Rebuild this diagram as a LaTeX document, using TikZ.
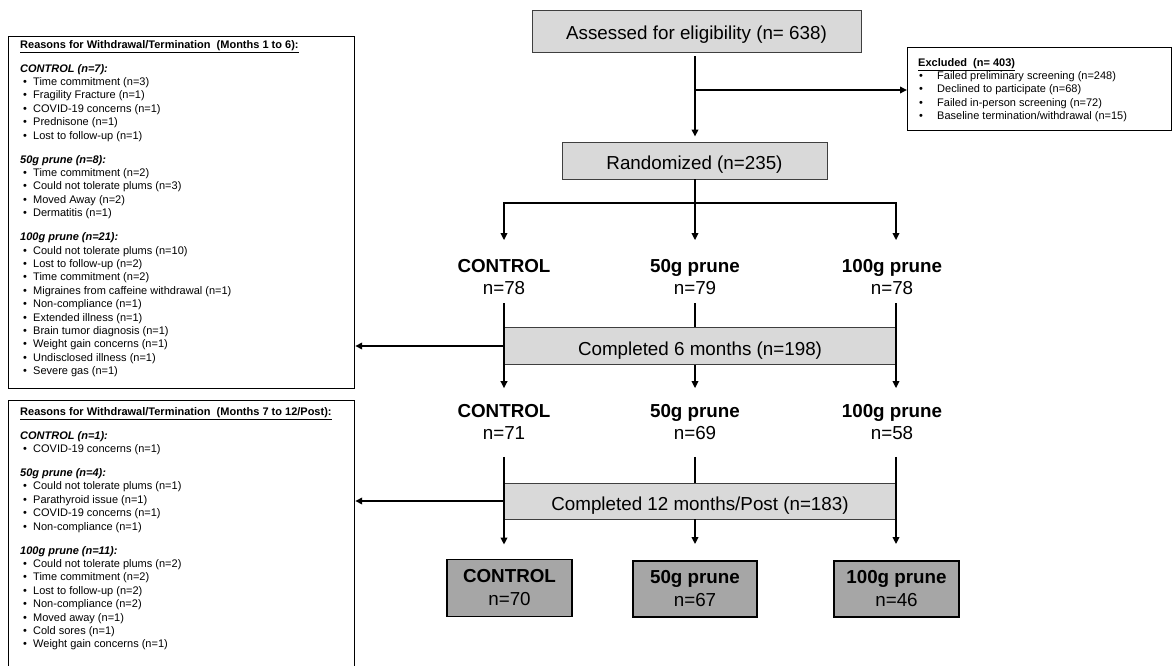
\documentclass[tikz,border=0pt]{standalone}
\usepackage{fontspec}
\setmainfont{Liberation Sans}
\usetikzlibrary{arrows.meta}
\definecolor{lightbox}{HTML}{D9D9D9}
\definecolor{darkbox}{HTML}{A6A6A6}
\definecolor{boxline}{HTML}{3F3F3F}
\newcommand{\wdbul}{\hspace*{3pt}\makebox[10pt][l]{\textbullet}}
\newcommand{\exbul}{\hspace*{1pt}\makebox[18pt][l]{\textbullet}}
\begin{document}
\begin{tikzpicture}[x=1pt,y=-1pt,
  big/.style={font=\fontsize{18.8}{22}\selectfont},
  flowbox/.style={draw=boxline, line width=0.9pt, fill=lightbox, inner sep=0pt, text height=18pt, text depth=0pt, big},
  grp/.style={align=center, inner sep=0pt, big},
  finalbox/.style={draw=black, line width=1.8pt, fill=darkbox, align=center, inner sep=0pt, font=\fontsize{18.8}{23}\selectfont},
  listbox/.style={draw=black, line width=1.2pt, anchor=north west, inner sep=0pt},
  listtext/.style={anchor=north west, align=left, inner sep=0pt, font=\fontsize{11}{13.4}\selectfont},
  conn/.style={line width=1.8pt},
  arr/.style={conn, -{Triangle[length=7pt,width=6.5pt]}},
]
\useasboundingbox (0,0) rectangle (1172,666);
\clip (0,0) rectangle (1172,666);

% columns
\coordinate (c1) at (504,0);
\coordinate (c2) at (695,0);
\coordinate (c3) at (896,0);

% main flow boxes
\node[flowbox, minimum width=329pt, minimum height=42pt] (assess) at (696.5,31) {Assessed for eligibility (n= 638)};
\node[flowbox, minimum width=265pt, minimum height=37pt] (rand) at (694.5,160.5) {Randomized (n=235)};

% excluded
\node[listbox, minimum width=264pt, minimum height=83pt] (excl) at (907,47) {};
\node[listtext] (exclt) at (918,58) {\textbf{\underline{Excluded\ \ (n= 403)}}\\
\exbul Failed preliminary screening (n=248)\\
\exbul Declined to participate (n=68)\\
\exbul Failed in-person screening (n=72)\\
\exbul Baseline termination/withdrawal (n=15)};

% group labels
\node[grp] (g1a) at (504,277) {\textbf{CONTROL}\\n=78};
\node[grp] (g2a) at (695,277) {\textbf{50g prune}\\n=79};
\node[grp] (g3a) at (892,277) {\textbf{100g prune}\\n=78};

\node[flowbox, minimum width=392pt, minimum height=37pt] (comp6) at (700,346) {Completed 6 months (n=198)};

\node[grp] (g1b) at (504,422) {\textbf{CONTROL}\\n=71};
\node[grp] (g2b) at (695,422) {\textbf{50g prune}\\n=69};
\node[grp] (g3b) at (892,422) {\textbf{100g prune}\\n=58};

\node[flowbox, minimum width=392pt, minimum height=36pt] (comp12) at (700,501) {Completed 12 months/Post (n=183)};

\node[finalbox, minimum width=125pt, minimum height=57pt] (f1) at (509.5,588) {\textbf{CONTROL}\\n=70};
\node[finalbox, minimum width=124pt, minimum height=56pt] (f2) at (695,589) {\textbf{50g prune}\\n=67};
\node[finalbox, minimum width=125pt, minimum height=56pt] (f3) at (896.5,589) {\textbf{100g prune}\\n=46};

% withdrawal boxes
\node[listbox, minimum width=346pt, minimum height=352pt] (wd1) at (8,36) {};
\node[listtext] (wd1t) at (20,40) {\textbf{\underline{Reasons for Withdrawal/Termination\ \ (Months 1 to 6):}}\\[10.6pt]
\textbf{\textit{CONTROL (n=7):}}\\
\wdbul Time commitment (n=3)\\
\wdbul Fragility Fracture (n=1)\\
\wdbul COVID-19 concerns (n=1)\\
\wdbul Prednisone (n=1)\\
\wdbul Lost to follow-up (n=1)\\[10.6pt]
\textbf{\textit{50g prune (n=8):}}\\
\wdbul Time commitment (n=2)\\
\wdbul Could not tolerate plums (n=3)\\
\wdbul Moved Away (n=2)\\
\wdbul Dermatitis (n=1)\\[10.6pt]
\textbf{\textit{100g prune (n=21):}}\\
\wdbul Could not tolerate plums (n=10)\\
\wdbul Lost to follow-up (n=2)\\
\wdbul Time commitment (n=2)\\
\wdbul Migraines from caffeine withdrawal (n=1)\\
\wdbul Non-compliance (n=1)\\
\wdbul Extended illness (n=1)\\
\wdbul Brain tumor diagnosis (n=1)\\
\wdbul Weight gain concerns (n=1)\\
\wdbul Undisclosed illness (n=1)\\
\wdbul Severe gas (n=1)};

\node[listbox, minimum width=346pt, minimum height=300pt] (wd2) at (8,400) {};
\node[listtext] (wd2t) at (20,407) {\textbf{\underline{Reasons for Withdrawal/Termination\ \ (Months 7 to 12/Post):}}\\[10.6pt]
\textbf{\textit{CONTROL (n=1):}}\\
\wdbul COVID-19 concerns (n=1)\\[10.6pt]
\textbf{\textit{50g prune (n=4):}}\\
\wdbul Could not tolerate plums (n=1)\\
\wdbul Parathyroid issue (n=1)\\
\wdbul COVID-19 concerns (n=1)\\
\wdbul Non-compliance (n=1)\\[10.6pt]
\textbf{\textit{100g prune (n=11):}}\\
\wdbul Could not tolerate plums (n=2)\\
\wdbul Time commitment (n=2)\\
\wdbul Lost to follow-up (n=2)\\
\wdbul Non-compliance (n=2)\\
\wdbul Moved away (n=1)\\
\wdbul Cold sores (n=1)\\
\wdbul Weight gain concerns (n=1)};

% connectors
\draw[arr, shorten <=4pt, shorten >=5pt] (assess.south -| c2) -- (rand.north -| c2);
\coordinate (bx) at (695,90);
\draw[arr] (bx) -- (bx -| excl.west);
\coordinate (br) at (695,203);
\draw[arr, shorten >=19pt] (rand.south -| c2) -- (g2a.north -| c2);
\draw[arr, shorten >=19pt] (br) -- (c1 |- br) -- (g1a.north -| c1);
\draw[arr, shorten >=19pt] (br) -- (c3 |- br) -- (g3a.north -| c3);

% through 6 months
\draw[arr, shorten <=8.5pt, shorten >=16pt] (g1a.south -| c1) -- (g1b.north -| c1);
\draw[conn, shorten <=8.5pt] (g2a.south -| c2) -- (comp6.north -| c2);
\draw[arr, shorten >=16pt] (comp6.south -| c2) -- (g2b.north -| c2);
\draw[arr, shorten <=8.5pt, shorten >=16pt] (g3a.south -| c3) -- (g3b.north -| c3);
\draw[arr] (comp6.west) -- (comp6.west -| wd1.east);

% through 12 months
\draw[arr, shorten <=17pt, shorten >=14pt] (g1b.south -| c1) -- (f1.north -| c1);
\draw[conn, shorten <=17pt] (g2b.south -| c2) -- (comp12.north -| c2);
\draw[arr, shorten >=16pt] (comp12.south -| c2) -- (f2.north -| c2);
\draw[arr, shorten <=17pt, shorten >=16pt] (g3b.south -| c3) -- (f3.north -| c3);
\draw[arr] (comp12.west) -- (comp12.west -| wd2.east);
\end{tikzpicture}
\end{document}
